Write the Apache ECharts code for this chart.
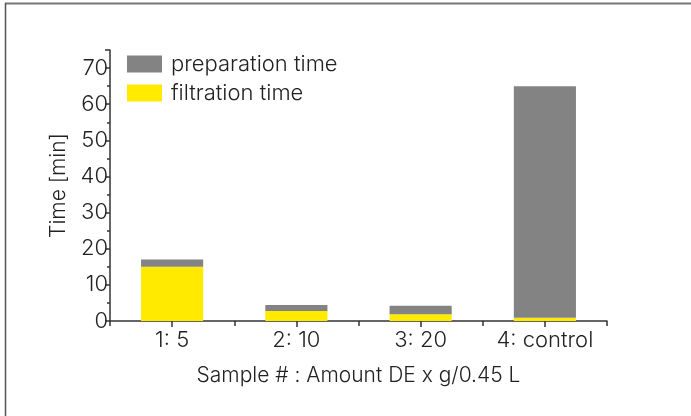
<!DOCTYPE html>
<html><head><meta charset="utf-8">
<script src="https://cdn.jsdelivr.net/npm/echarts@6/dist/echarts.min.js"></script>
<style>html,body{margin:0;padding:0;background:#fff}#c{width:691px;height:416px}</style>
</head><body><div id="c"></div>
<script>
const categories = ['1: 5', '2: 10', '3: 20', '4: control'];
const filtrationTime = [15, 2.8, 1.9, 0.9];
const preparationTime = [2, 1.6, 2.3, 64.1];
const yTicks = [0, 10, 20, 30, 40, 50, 60, 70];

const FONT = 'Inter';
const FW = 300;
const FS = 22;
const chart = echarts.init(document.getElementById('c'), null, {renderer: 'canvas'});
chart.setOption({
  animation: false,
  textStyle: {fontFamily: FONT, fontWeight: FW},
  graphic: [
    {type: 'line', shape: {x1: 5, y1: 3.5, x2: 691, y2: 3.5}, style: {stroke: '#777', lineWidth: 2}},
    {type: 'line', shape: {x1: 5.5, y1: 3, x2: 5.5, y2: 416}, style: {stroke: '#555', lineWidth: 1.5}}
  ],
  legend: {
    left: 127, top: 53, padding: 0, orient: 'vertical', itemWidth: 35, itemHeight: 17, itemGap: 7,
    icon: 'rect',
    textStyle: {fontFamily: FONT, fontWeight: FW, fontSize: FS, color: '#222', padding: [0, 0, 0, 4]},
    data: ['preparation time', 'filtration time']
  },
  grid: {left: 110, right: 84, top: 50, bottom: 95},
  xAxis: [{
    type: 'category', data: categories,
    axisLine: {lineStyle: {color: '#333', width: 1.5}},
    axisTick: {show: true, length: 5, inside: false, lineStyle: {color: '#333', width: 1.5}},
    axisLabel: {interval: 0, fontFamily: FONT, fontWeight: FW, fontSize: FS, color: '#222', margin: 8},
    name: 'Sample # : Amount DE x g/0.45 L', nameLocation: 'middle', nameGap: 44,
    nameTextStyle: {fontFamily: FONT, fontWeight: FW, fontSize: 21, color: '#222'}
  }, {
    type: 'category', data: categories, position: 'bottom',
    axisLine: {show: false},
    axisTick: {show: true, alignWithLabel: true, length: 6, lineStyle: {color: '#333', width: 1.5}},
    axisLabel: {show: false}
  }],
  yAxis: {
    type: 'value', min: 0, max: 75, interval: 10,
    axisLine: {show: true, lineStyle: {color: '#333', width: 1.5}},
    axisTick: {show: true, length: 5, lineStyle: {color: '#333', width: 1.5}},
    minorTick: {show: true, splitNumber: 2, length: 3, lineStyle: {color: '#333', width: 1.5}},
    splitLine: {show: false},
    axisLabel: {fontFamily: FONT, fontWeight: FW, fontSize: FS, color: '#222', margin: 2,
      formatter: v => yTicks.includes(v) ? String(v) : ''},
    name: 'Time [min]', nameLocation: 'middle', nameGap: 41, nameRotate: 90,
    nameTextStyle: {fontFamily: FONT, fontWeight: FW, fontSize: 21, color: '#222'}
  },
  series: [
    {name: 'filtration time', type: 'bar', stack: 't', data: filtrationTime, barWidth: '50%',
      itemStyle: {color: '#ffea00'}},
    {name: 'preparation time', type: 'bar', stack: 't', data: preparationTime, barWidth: '50%',
      itemStyle: {color: '#838383'}}
  ]
});
</script></body></html>
